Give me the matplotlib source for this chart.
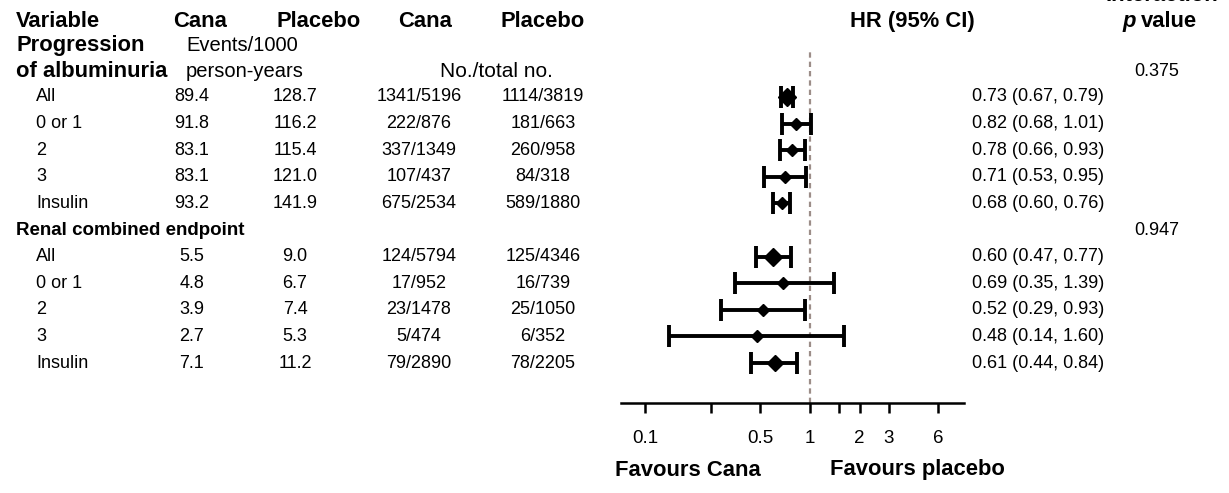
import numpy as np
import matplotlib
matplotlib.use("Agg")
import matplotlib.pyplot as plt
from matplotlib import transforms

plt.rcParams['font.family'] = ['Liberation Sans', 'DejaVu Sans']

# subgroup labels (number of prior drug classes / insulin)
subgroups = ["All", "0 or 1", "2", "3", "Insulin"]

# progression of albuminuria
alb_rate_cana = [89.4, 91.8, 83.1, 83.1, 93.2]
alb_rate_plac = [128.7, 116.2, 115.4, 121.0, 141.9]
alb_n_cana = ["1341/5196", "222/876", "337/1349", "107/437", "675/2534"]
alb_n_plac = ["1114/3819", "181/663", "260/958", "84/318", "589/1880"]
alb_hr = [0.73, 0.82, 0.78, 0.71, 0.68]
alb_lo = [0.67, 0.68, 0.66, 0.53, 0.60]
alb_hi = [0.79, 1.01, 0.93, 0.95, 0.76]
alb_p = "0.375"

# renal combined endpoint
ren_rate_cana = [5.5, 4.8, 3.9, 2.7, 7.1]
ren_rate_plac = [9.0, 6.7, 7.4, 5.3, 11.2]
ren_n_cana = ["124/5794", "17/952", "23/1478", "5/474", "79/2890"]
ren_n_plac = ["125/4346", "16/739", "25/1050", "6/352", "78/2205"]
ren_hr = [0.60, 0.69, 0.52, 0.48, 0.61]
ren_lo = [0.47, 0.35, 0.29, 0.14, 0.44]
ren_hi = [0.77, 1.39, 0.93, 1.60, 0.84]
ren_p = "0.947"

tick_vals = [0.1, 0.25, 0.5, 1, 1.5, 2, 3, 6]
tick_labels = ["0.1", "", "0.5", "1", "", "2", "3", "6"]

W, H = 1229, 493
fig = plt.figure(figsize=(W / 100, H / 100), dpi=100)

# forest panel, placed in pixel units
x0, x1, y_top, y_axis = 621, 964, 50, 403
row0, row_h = 97, 26.6
ax = fig.add_axes([x0 / W, 1 - y_axis / H, (x1 - x0) / W, (y_axis - y_top) / H])
ax.set_xscale('log')
ax.set_xlim(0.0716, 8.58)
ax.set_ylim((y_axis - row0) / row_h, (y_top - row0) / row_h)

pos1 = np.arange(5)
pos2 = np.arange(5) + 6

ms1 = [9.5, 6.5, 6.5, 6.5, 6.5]
ms2 = [9.5, 6, 6, 6, 8]

for pos, hr, lo, hi, ms in [(pos1, alb_hr, alb_lo, alb_hi, ms1),
                            (pos2, ren_hr, ren_lo, ren_hi, ms2)]:
    hr = np.array(hr)
    err = np.vstack([hr - np.array(lo), np.array(hi) - hr])
    ax.errorbar(hr, pos, xerr=err, fmt='none', ecolor='black',
                elinewidth=2.8, capsize=8, capthick=2.8, zorder=2)
    for x, y, s in zip(hr, pos, ms):
        ax.plot(x, y, marker='D', color='black', markersize=s, zorder=3)

ax.axvline(1, color='#9c8d88', linestyle=(0, (2.4, 1.8)), linewidth=1.6, zorder=1)

for side in ['top', 'right', 'left']:
    ax.spines[side].set_visible(False)
ax.spines['bottom'].set_linewidth(1.8)
ax.set_yticks([])
ax.set_xticks(tick_vals)
ax.set_xticklabels(tick_labels)
ax.xaxis.set_minor_locator(matplotlib.ticker.NullLocator())
ax.tick_params(axis='x', direction='out', length=7.5, width=1.8, pad=12,
               labelsize=13.5)

# text columns: x in figure pixels, y in row units
tr = transforms.blended_transform_factory(fig.transFigure, ax.transData)


def put(x, y, s, ha='center', va='center', **kw):
    kw.setdefault('fontsize', 13)
    fig.text(x / W, y, s, ha=ha, va=va, transform=tr, **kw)


hdr = dict(fontsize=15.8, fontweight='bold')
y_hdr = -2.82
put(16, y_hdr, "Variable", ha='left', **hdr)
put(200, y_hdr, "Cana", **hdr)
put(319, y_hdr, "Placebo", **hdr)
put(425, y_hdr, "Cana", **hdr)
put(543, y_hdr, "Placebo", **hdr)
put(912, y_hdr, "HR (95% CI)", **hdr)
put(1162, -3.6, "Interaction", va='baseline', **hdr)
put(1122, y_hdr, "p", ha='left', fontsize=15.8, fontweight='bold', fontstyle='italic')
put(1141, y_hdr, "value", ha='left', **hdr)

put(16, -1.92, "Progression", ha='left', **hdr)
put(16, -0.94, "of albuminuria", ha='left', **hdr)
put(186, -1.92, "Events/1000", ha='left', fontsize=14.5)
put(186, -0.94, "person-years", ha='left', fontsize=14.5)
put(496, -0.94, "No./total no.", fontsize=15)
put(1157, -0.94, alb_p)

put(16, 5.03, "Renal combined endpoint", ha='left', fontsize=13.5, fontweight='bold')
put(1157, 5.03, ren_p)

for pos, rc, rp, nc, npl, hr, lo, hi in [
        (pos1, alb_rate_cana, alb_rate_plac, alb_n_cana, alb_n_plac, alb_hr, alb_lo, alb_hi),
        (pos2, ren_rate_cana, ren_rate_plac, ren_n_cana, ren_n_plac, ren_hr, ren_lo, ren_hi)]:
    for i, y in enumerate(pos):
        put(36, y, subgroups[i], ha='left')
        put(192, y, f"{rc[i]:.1f}")
        put(295, y, f"{rp[i]:.1f}")
        put(419, y, nc[i])
        put(543, y, npl[i])
        put(972, y, f"{hr[i]:.2f} ({lo[i]:.2f}, {hi[i]:.2f})", ha='left')

fig.text(688 / W, 1 - 470 / H, "Favours Cana", ha='center', va='center',
         fontsize=15.8, fontweight='bold')
fig.text(917 / W, 1 - 470 / H, "Favours placebo", ha='center', va='center',
         fontsize=15.8, fontweight='bold')

fig.savefig("out.png", dpi=100)
